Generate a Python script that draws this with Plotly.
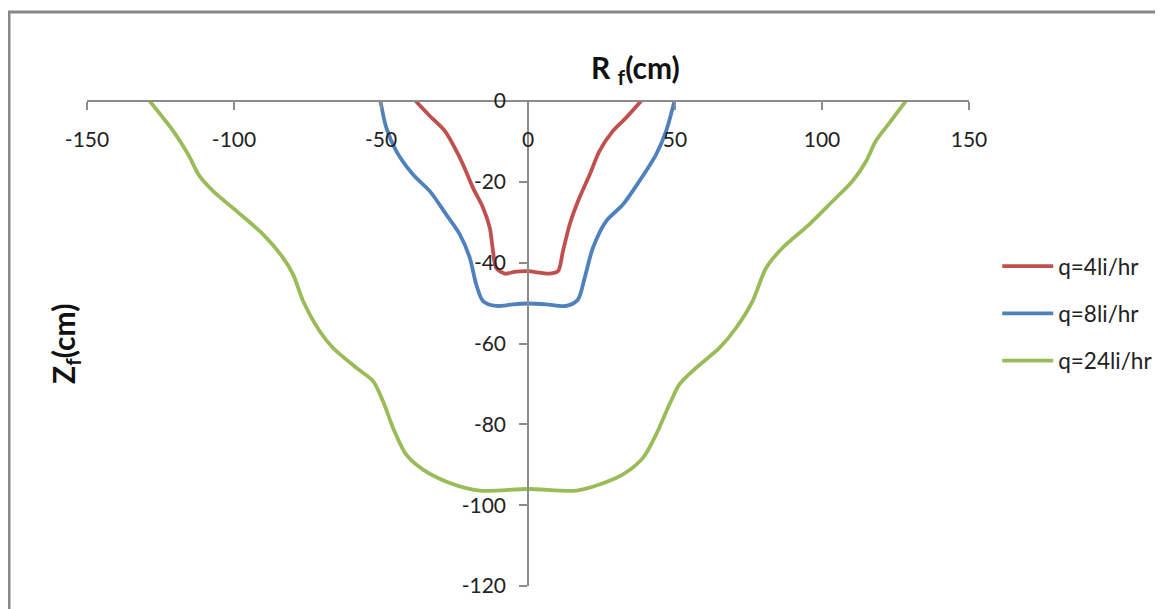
import plotly.graph_objects as go

# DATA #
series_names = ["q=4li/hr", "q=8li/hr", "q=24li/hr"]

r_q4 = [-38.2, -33.4, -28.3, -24.9, -22.1, -18.7, -15.3, -13.0, -11.9, -10.8, -7.9, -4.0, 0.0,
        7.4, 10.2, 11.9, 14.2, 17.0, 21.0, 24.3, 28.9, 33.4, 38.5]
z_q4 = [0.0, -3.7, -7.4, -11.6, -15.7, -21.5, -26.4, -31.4, -37.1, -41.3, -42.7, -42.2, -42.1,
        -42.7, -42.1, -37.1, -30.5, -24.8, -18.2, -12.4, -7.4, -4.1, 0.0]

r_q8 = [-50.2, -48.2, -44.8, -39.1, -33.4, -27.8, -23.2, -19.8, -17.6, -15.3, -10.8, -5.1, 0.0,
        6.2, 13.0, 17.0, 19.3, 22.1, 26.6, 32.3, 37.9, 43.6, 47.0, 49.8]
z_q8 = [0.0, -6.6, -12.4, -18.2, -22.3, -28.1, -33.0, -38.8, -45.4, -49.5, -50.7, -50.3, -50.1,
        -50.3, -50.7, -49.1, -43.7, -36.3, -29.7, -25.6, -19.8, -13.2, -7.4, 0.0]

r_q24 = [-128.7, -120.7, -115.6, -111.7, -107.1, -99.2, -90.1, -83.3, -79.9, -76.5, -70.9, -66.3,
         -58.4, -52.7, -49.3, -45.9, -41.4, -35.7, -26.6, -16.4, 0.0,
         16.4, 24.3, 32.3, 39.1, 43.6, 48.1, 51.5, 57.2, 65.1, 70.8, 76.4, 81.0, 86.6, 95.7,
         103.6, 110.4, 115.0, 118.3, 123.4, 128.5]
z_q24 = [0.0, -7.4, -13.2, -18.6, -22.3, -27.2, -33.0, -38.8, -42.9, -49.5, -56.9, -61.1,
         -66.0, -69.3, -74.3, -80.9, -87.5, -91.2, -94.5, -96.4, -96.0,
         -96.4, -94.9, -92.4, -88.3, -82.5, -75.1, -70.1, -66.0, -61.1, -56.1, -49.5, -41.3, -36.3, -30.5,
         -24.8, -19.8, -14.9, -9.9, -5.0, 0.0]

x_ticks = [-150, -100, -50, 0, 50, 100, 150]
x_labels = ["-150", "-100", "-50", "0", "50", "100", "150"]
y_ticks = [0, -20, -40, -60, -80, -100, -120]
y_labels = ["0", "-20", "-40", "-60", "-80", "-100", "-120"]

colors = ["#C0504D", "#4F81BD", "#9BBB59"]
FONT = "Lato"
AXIS_COLOR = "#8C8C8C"

fig = go.Figure()
for name, xs, ys, col in zip(series_names, [r_q4, r_q8, r_q24], [z_q4, z_q8, z_q24], colors):
    fig.add_trace(go.Scatter(x=xs, y=ys, name=name, mode="lines", legendgroup=name,
                             line=dict(color=col, width=3.8, shape="spline", smoothing=0.8)))

fig.update_layout(
    width=1163, height=609,
    paper_bgcolor="white", plot_bgcolor="white",
    margin=dict(l=79, r=202, t=93, b=31, autoexpand=False),
    font=dict(family=FONT, size=21, color="#222222"),
    showlegend=True,
    legend=dict(x=1.032, y=0.703, xanchor="left", yanchor="top",
                font=dict(family=FONT, size=22.5, color="#222222"),
                tracegroupgap=15, traceorder="grouped", itemwidth=51,
                bgcolor="rgba(0,0,0,0)"),
    # x axis sits on z=0 (top edge) with labels below it, like the original
    xaxis=dict(range=[-150, 150], tickvals=x_ticks, ticktext=x_labels,
               anchor="free", position=1, side="bottom",
               showgrid=False, zeroline=False, showline=True, linecolor=AXIS_COLOR, linewidth=1.5,
               ticks="outside", ticklen=8, tickcolor=AXIS_COLOR, tickwidth=1.5,
               ticklabelstandoff=12),
    # y axis sits on r=0 (middle)
    yaxis=dict(range=[-120, 0], tickvals=y_ticks, ticktext=y_labels,
               anchor="free", position=0.5,
               showgrid=False, zeroline=False, showline=True, linecolor=AXIS_COLOR, linewidth=1.5,
               ticks="outside", ticklen=8, tickcolor=AXIS_COLOR, tickwidth=1.5,
               ticklabelstandoff=9),
)

# AXIS TITLES #
fig.add_annotation(text="<b>R <sub>f</sub>(cm)</b>", xref="paper", yref="paper",
                   x=0.622, y=1.066, xanchor="center", yanchor="middle", showarrow=False,
                   font=dict(family=FONT, size=30, color="#111111"))
fig.add_annotation(text="<b>Z<sub>f</sub>(cm)</b>", xref="paper", yref="paper",
                   x=-0.025, y=0.499, xanchor="center", yanchor="middle", textangle=-90,
                   showarrow=False, font=dict(family=FONT, size=30, color="#111111"))

# CHART FRAME #
fig.add_shape(type="rect", xref="paper", yref="paper", x0=-0.0884, x1=1.3, y0=-0.2, y1=1.1835,
              line=dict(color="#888888", width=3), fillcolor="rgba(0,0,0,0)", layer="below")

fig.write_html("out.html")
